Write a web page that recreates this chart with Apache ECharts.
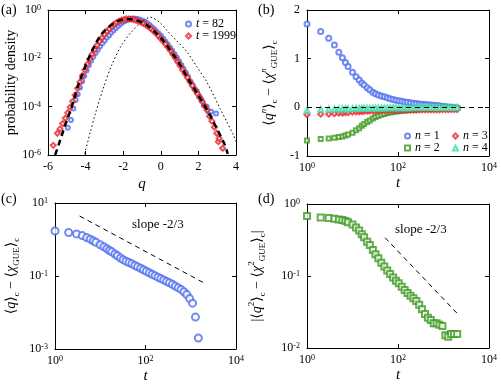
<!DOCTYPE html>
<html>
<head>
<meta charset="utf-8">
<script src="https://cdn.jsdelivr.net/npm/echarts@6/dist/echarts.min.js"></script>
<style>
  html, body { margin: 0; padding: 0; background: #fff; }
  #chart { width: 501px; height: 387px; }
</style>
</head>
<body>
<div id="chart"></div>
<script>
// ---- panel (a): probability density (log10 values) ----
const qT82 = [-4.95,-4.78,-4.65,-4.53,-4.42,-4.30,-4.18,-4.07,-3.95,-3.83,-3.71,-3.59,-3.47,-3.35,-3.23,-3.11,-2.99,-2.87,-2.75,-2.63,-2.51,-2.39,-2.27,-2.15,-2.03,-1.91,-1.79,-1.67,-1.55,-1.43,-1.31,-1.19,-1.07,-0.95,-0.83,-0.71,-0.59,-0.47,-0.35,-0.23,-0.11,0.01,0.13,0.25,0.37,0.49,0.61,0.73,0.85,0.97,1.09,1.21,1.33,1.45,1.57,1.69,1.81,1.93,2.05,2.17,2.29,2.44,2.53,2.67,2.94];
const logP82 = [-4.87,-4.55,-4.08,-3.72,-3.49,-3.21,-2.95,-2.73,-2.5,-2.29,-2.1,-1.93,-1.78,-1.64,-1.5,-1.38,-1.26,-1.14,-1.04,-0.93,-0.84,-0.74,-0.66,-0.58,-0.51,-0.46,-0.41,-0.38,-0.36,-0.35,-0.36,-0.38,-0.41,-0.45,-0.5,-0.56,-0.63,-0.71,-0.8,-0.89,-0.98,-1.08,-1.19,-1.31,-1.43,-1.56,-1.69,-1.83,-1.97,-2.12,-2.28,-2.43,-2.6,-2.76,-2.96,-3.1,-3.28,-3.38,-3.58,-3.72,-3.95,-4.0,-4.2,-4.2,-4.28];
const qT1999 = [-5.72,-5.5,-5.36,-5.22,-5.08,-4.95,-4.82,-4.69,-4.56,-4.43,-4.30,-4.17,-4.04,-3.91,-3.78,-3.65,-3.52,-3.39,-3.26,-3.13,-3.0,-2.87,-2.74,-2.61,-2.48,-2.35,-2.22,-2.09,-1.96,-1.83,-1.70,-1.57,-1.44,-1.31,-1.18,-1.05,-0.92,-0.79,-0.66,-0.53,-0.40,-0.27,-0.14,-0.01,0.12,0.25,0.38,0.51,0.64,0.77,0.90,1.03,1.16,1.29,1.42,1.55,1.68,1.81,1.94,2.07,2.20,2.33,2.46,2.59,2.72,2.85,2.98,3.06,3.11,3.29];
const logP1999 = [-5.6,-5.1,-4.92,-4.7,-4.48,-4.25,-4.02,-3.78,-3.52,-3.24,-2.98,-2.72,-2.48,-2.24,-2.03,-1.83,-1.64,-1.46,-1.3,-1.15,-1.01,-0.89,-0.78,-0.68,-0.59,-0.52,-0.46,-0.42,-0.39,-0.37,-0.37,-0.38,-0.40,-0.43,-0.46,-0.51,-0.56,-0.62,-0.69,-0.77,-0.86,-0.95,-1.06,-1.17,-1.29,-1.41,-1.54,-1.68,-1.83,-1.99,-2.15,-2.31,-2.48,-2.64,-2.80,-2.96,-3.13,-3.29,-3.46,-3.62,-3.79,-3.96,-4.14,-4.4,-4.6,-4.85,-5.1,-5.45,-5.32,-5.72];
const qGUE = [-5.62,-5.4,-5.2,-5.0,-4.8,-4.6,-4.4,-4.2,-4.0,-3.8,-3.6,-3.4,-3.2,-3.0,-2.8,-2.6,-2.4,-2.2,-2.0,-1.8,-1.6,-1.4,-1.2,-1.0,-0.8,-0.6,-0.4,-0.2,0.0,0.2,0.4,0.6,0.8,1.0,1.2,1.4,1.6,1.8,2.0,2.2,2.4,2.6,2.8,3.0,3.2,3.4,3.56];
const logGUE = [-6.0,-5.5,-5.03,-4.58,-4.15,-3.65,-3.12,-2.7,-2.3,-1.93,-1.6,-1.3,-1.05,-0.86,-0.72,-0.6,-0.5,-0.43,-0.39,-0.37,-0.38,-0.41,-0.45,-0.51,-0.6,-0.71,-0.84,-1.0,-1.15,-1.34,-1.55,-1.78,-2.0,-2.24,-2.5,-2.78,-3.03,-3.28,-3.53,-3.79,-4.05,-4.33,-4.63,-4.94,-5.25,-5.57,-5.95];
const qDotted = [-4.05,-3.75,-3.5,-3.06,-2.61,-2.08,-1.55,-1.02,-0.55,-0.04,0.31,0.8,1.38,1.9,2.44,3.15,3.5,3.86,4.0];
const logDotted = [-5.95,-5.05,-4.34,-3.24,-2.28,-1.45,-0.9,-0.5,-0.3,-0.53,-0.83,-1.24,-1.72,-2.33,-2.97,-4.07,-4.61,-5.17,-5.45];

// ---- panels (b)-(d): cumulant differences vs time ----
const T = [1,2,3,4,5,6,7,8,10,12,14,16,18,21,24,28,32,37,43,50,58,67,78,90,104,121,140,162,188,218,252,292,338,392,454,526,609,706,818,947,1097,1271,1472,1706,1999];
const diffN1 = [1.71,1.56,1.42,1.28,1.13,1.02,0.92,0.84,0.72,0.63,0.56,0.50,0.46,0.40,0.36,0.31,0.28,0.255,0.235,0.215,0.195,0.178,0.163,0.148,0.135,0.123,0.112,0.102,0.093,0.085,0.078,0.071,0.065,0.059,0.053,0.048,0.043,0.037,0.031,0.024,0.018,0.0075,0.002,-0.004,-0.008];
const diffN2 = [-0.68,-0.65,-0.64,-0.625,-0.61,-0.60,-0.58,-0.56,-0.52,-0.47,-0.43,-0.38,-0.344,-0.30,-0.27,-0.23,-0.20,-0.176,-0.153,-0.135,-0.119,-0.107,-0.095,-0.086,-0.079,-0.071,-0.064,-0.058,-0.053,-0.049,-0.045,-0.040,-0.0345,-0.0297,-0.0263,-0.0245,-0.022,-0.022,-0.021,-0.0202,-0.015,-0.0143,-0.0156,-0.0156,-0.0157];
const diffN3 = [-0.15,-0.14,-0.14,-0.13,-0.12,-0.12,-0.11,-0.11,-0.10,-0.095,-0.09,-0.085,-0.08,-0.078,-0.075,-0.072,-0.07,-0.068,-0.066,-0.064,-0.062,-0.06,-0.06,-0.058,-0.058,-0.056,-0.056,-0.055,-0.055,-0.054,-0.054,-0.053,-0.053,-0.052,-0.052,-0.051,-0.05,-0.05,-0.049,-0.048,-0.048,-0.047,-0.046,-0.045,-0.045];
const diffN4 = [-0.06,-0.04,-0.04,-0.035,-0.035,-0.032,-0.03,-0.028,-0.026,-0.024,-0.022,-0.021,-0.02,-0.018,-0.017,-0.016,-0.015,-0.014,-0.013,-0.012,-0.011,-0.01,-0.009,-0.008,-0.008,-0.007,-0.007,-0.006,-0.006,-0.005,-0.005,-0.005,-0.004,-0.004,-0.004,-0.003,-0.003,-0.003,-0.002,-0.002,-0.002,-0.002,-0.001,-0.001,-0.001];
const slopeLineC = [[3.5, 4.4], [1860, 0.067]];
const slopeLineD = [[52, 0.34], [2130, 0.029]];

const BLUE = '#4d6ef0', RED = '#e8262a', GREEN = '#3f9a22', CYAN = '#40dcaa';
const FONT = 'Liberation Serif, DejaVu Serif, serif';
const lg = Math.log10;

var myChart = echarts.init(document.getElementById('chart'), null, { renderer: 'canvas' });

const supRich = {
  s: { fontSize: 8, fontFamily: FONT, color: '#000', verticalAlign: 'top', lineHeight: 10 }
};
const pow10 = v => '10{s|' + v + '}';

function xy(xs, ys) { return xs.map((x, i) => [x, ys[i]]); }

function frameAxes(grid, min, max, interval, isX, labelFmt, name, extra) {
  const common = {
    type: 'value', gridIndex: grid, min: min, max: max, interval: interval,
    axisLine: { show: true, onZero: false, lineStyle: { color: '#000', width: 1 } },
    axisTick: { show: true, inside: true, length: 4, lineStyle: { color: '#000' } },
    splitLine: { show: false }
  };
  const main = Object.assign({}, common, {
    position: isX ? 'bottom' : 'left',
    axisLabel: { color: '#000', fontFamily: FONT, fontSize: 12, margin: isX ? 6 : 7, formatter: labelFmt, rich: supRich },
    name: name, nameLocation: 'middle'
  }, extra || {});
  const mirror = Object.assign({}, common, {
    position: isX ? 'top' : 'right',
    axisLabel: { show: false }
  });
  if (extra && extra.axisTick) mirror.axisTick = extra.axisTick;
  return [main, mirror];
}

const xAxes = [], yAxes = [];
// (a)
xAxes.push(...frameAxes(0, -6, 4, 2, true, v => String(v), 'q',
  { nameGap: 22, nameTextStyle: { fontFamily: FONT, fontSize: 15, fontStyle: 'italic', color: '#000' } }));
yAxes.push(...frameAxes(0, -6, 0, 2, false, pow10, 'probability density',
  { nameGap: 30, nameRotate: 90, nameTextStyle: { fontFamily: FONT, fontSize: 14, color: '#000' } }));
// (b)
xAxes.push(...frameAxes(1, 0, 4, 2, true, pow10, 't',
  { nameGap: 20, nameTextStyle: { fontFamily: FONT, fontSize: 15, fontStyle: 'italic', color: '#000' } }));
const nameRich = {
  i: { fontFamily: FONT, fontSize: 14, fontStyle: 'italic', color: '#000' },
  sup: { fontFamily: FONT, fontSize: 9, fontStyle: 'italic', color: '#000', verticalAlign: 'top', lineHeight: 10 },
  supn: { fontFamily: FONT, fontSize: 9, color: '#000', verticalAlign: 'top', lineHeight: 10 },
  sub: { fontFamily: FONT, fontSize: 9, color: '#000', verticalAlign: 'bottom', lineHeight: 10 }
};
const nameStyle = { fontFamily: FONT, fontSize: 14, color: '#000', lineHeight: 20, rich: nameRich };
yAxes.push(...frameAxes(1, -1, 2, 1, false, v => String(v),
  '\u27e8{i|q}{sup|n}\u27e9{sub|c} \u2212 \u27e8{i|\u03c7}{sup|n}{sub|GUE}\u27e9{sub|c}',
  { nameGap: 28, nameRotate: 90, nameTextStyle: nameStyle }));
// (c)
xAxes.push(...frameAxes(2, 0, 4, 2, true, pow10, 't',
  { nameGap: 20, nameTextStyle: { fontFamily: FONT, fontSize: 15, fontStyle: 'italic', color: '#000' } }));
const tickC = { show: true, inside: true, length: 4, lineStyle: { color: '#000' }, customValues: [-3, -1, 1] };
yAxes.push(...frameAxes(2, -3, 1, 1, false, pow10,
  '\u27e8{i|q}\u27e9{sub|c} \u2212 \u27e8{i|\u03c7}{sub|GUE}\u27e9{sub|c}',
  { nameGap: 34, nameRotate: 90, nameTextStyle: nameStyle, axisTick: tickC,
    axisLabel: { color: '#000', fontFamily: FONT, fontSize: 12, margin: 7, formatter: pow10, rich: supRich, customValues: [-3, -1, 1] } }));
// (d)
xAxes.push(...frameAxes(3, 0, 4, 2, true, pow10, 't',
  { nameGap: 20, nameTextStyle: { fontFamily: FONT, fontSize: 15, fontStyle: 'italic', color: '#000' } }));
yAxes.push(...frameAxes(3, -2, 0, 1, false, pow10,
  '|\u27e8{i|q}{supn|2}\u27e9{sub|c} \u2212 \u27e8{i|\u03c7}{supn|2}{sub|GUE}\u27e9{sub|c}|',
  { nameGap: 40, nameRotate: 90, nameTextStyle: nameStyle }));

function scatter(name, grid, data, symbol, color, size) {
  return {
    name: name, type: 'scatter', xAxisIndex: 2 * grid, yAxisIndex: 2 * grid,
    data: data, symbol: symbol, symbolSize: size,
    itemStyle: { color: color, borderColor: color, borderWidth: 0.9 },
    emphasis: { disabled: true }, z: 3
  };
}
function curve(grid, data, width, dash, smooth) {
  return {
    type: 'line', xAxisIndex: 2 * grid, yAxisIndex: 2 * grid, data: data,
    showSymbol: false, smooth: smooth, silent: true, z: 4,
    lineStyle: { color: '#000', width: width, type: dash }
  };
}

const logT = T.map(lg);
const series = [
  // (a)
  curve(0, xy(qDotted, logDotted), 1, [1.5, 2.5], 0.3),
  scatter('t = 82', 0, xy(qT82, logP82), 'emptyCircle', BLUE, 4),
  scatter('t = 1999', 0, xy(qT1999, logP1999), 'emptyDiamond', RED, 5),
  curve(0, xy(qGUE, logGUE), 2.5, [6, 4], 0.3),
  // (b)
  Object.assign(scatter('n = 1', 1, xy(logT, diffN1), 'emptyCircle', BLUE, 5), {
    markLine: { silent: true, symbol: 'none', label: { show: false },
      lineStyle: { color: '#000', width: 1, type: [5, 4] }, data: [{ yAxis: 0 }] }
  }),
  scatter('n = 2', 1, xy(logT, diffN2), 'emptyRect', GREEN, 4),
  scatter('n = 3', 1, xy(logT, diffN3), 'emptyDiamond', RED, 5),
  scatter('n = 4', 1, xy(logT, diffN4), 'emptyTriangle', CYAN, 5),
  // (c)
  scatter('c', 2, logT.map((x, i) => [x, diffN1[i]]).filter(p => p[1] > 0).map(p => [p[0], lg(p[1])]), 'emptyCircle', BLUE, 7),
  curve(2, slopeLineC.map(p => [lg(p[0]), lg(p[1])]), 1, [5, 4], false),
  // (d)
  scatter('d', 3, logT.map((x, i) => [x, lg(Math.abs(diffN2[i]))]), 'emptyRect', GREEN, 6),
  curve(3, slopeLineD.map(p => [lg(p[0]), lg(p[1])]), 1, [5, 4], false)
];

const legRich = { i: { fontFamily: FONT, fontSize: 12, fontStyle: 'italic', color: '#000' } };
function legend(left, top, names) {
  return {
    left: left, top: top, orient: 'vertical', itemGap: 0, itemWidth: 5, itemHeight: 5,
    padding: 0, selectedMode: false, data: names,
    formatter: n => '{i|' + n[0] + '}' + n.slice(1),
    textStyle: { fontFamily: FONT, fontSize: 12, color: '#000', lineHeight: 10, rich: legRich }
  };
}

function txt(left, top, s, size) {
  return { type: 'text', left: left, top: top,
    style: { text: s, font: size + 'px ' + FONT, fill: '#000' } };
}

var option = {
  animation: false,
  backgroundColor: '#fff',
  grid: [
    { left: 48, top: 10, width: 188, height: 145 },
    { left: 307, top: 10, width: 182, height: 146 },
    { left: 48, top: 203, width: 188, height: 146 },
    { left: 307, top: 204, width: 182, height: 144 }
  ],
  xAxis: xAxes,
  yAxis: yAxes,
  legend: [
    legend(185, 18, ['t = 82', 't = 1999']),
    legend(404, 130, ['n = 1', 'n = 2']),
    legend(452, 130, ['n = 3', 'n = 4'])
  ],
  graphic: [
    txt(1, 3, '(a)', 14), txt(258, 3, '(b)', 14),
    txt(1, 192, '(c)', 14), txt(258, 192, '(d)', 14),
    txt(132, 218, 'slope -2/3', 13), txt(395, 223, 'slope -2/3', 13)
  ],
  series: series
};
myChart.setOption(option);
</script>
</body>
</html>
